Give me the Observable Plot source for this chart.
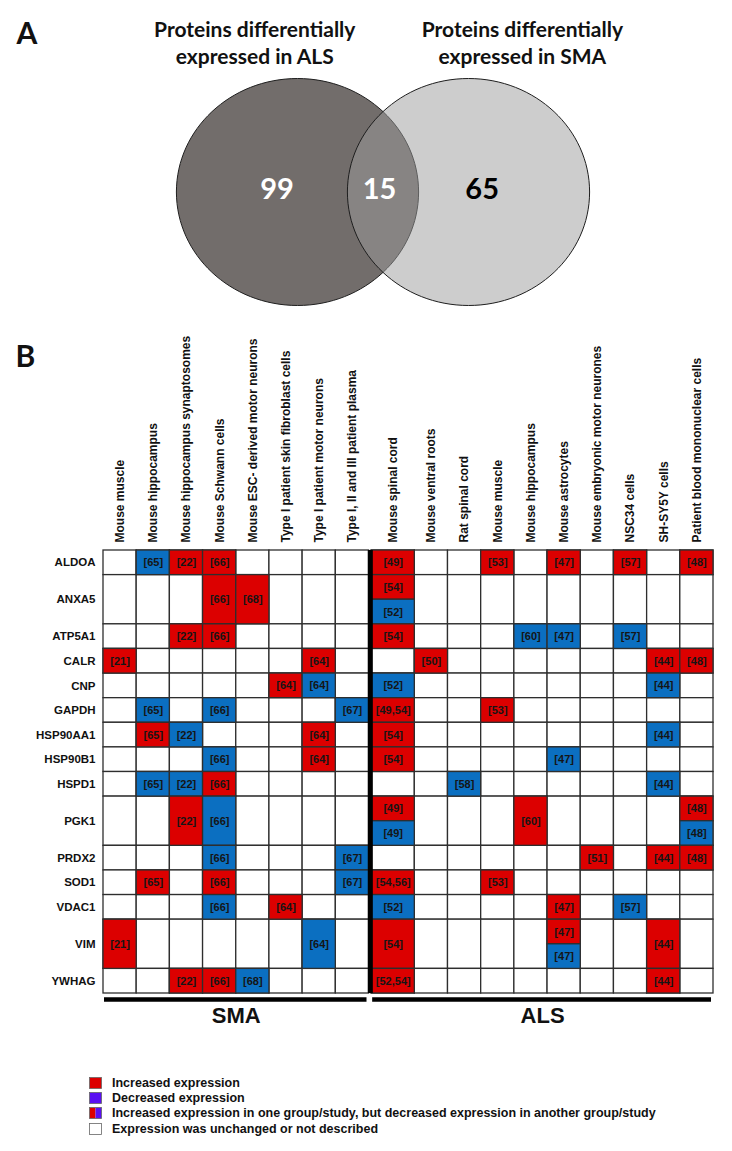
<!DOCTYPE html>
<html>
<head>
<meta charset="utf-8">
<script src="https://cdn.jsdelivr.net/npm/d3@7"></script>
<script src="https://cdn.jsdelivr.net/npm/@observablehq/plot@0.6"></script>
<style>
  body { margin: 0; background: #fff; }
  #wrap { position: relative; width: 732px; height: 1151px; overflow: hidden; background: #fff; }
  #venn { position: absolute; left: 0; top: 0; }
  #grid { position: absolute; left: 0; top: 330px; }
  #legend { position: absolute; left: 89px; top: 1075px; font-family: "Liberation Sans", Arial, sans-serif; font-weight: bold; font-size: 12.5px; color: #111; }
  #legend .item { display: flex; align-items: center; height: 15.3px; }
  #legend svg { margin-right: 10px; flex: none; }
</style>
</head>
<body>
<div id="wrap">
  <div id="venn"></div>
  <div id="grid"></div>
  <div id="legend"></div>
</div>
<script>
// ---------------- data ----------------
const vennSets = ["Proteins differentially\nexpressed in ALS", "Proteins differentially\nexpressed in SMA"];
const vennRegions = ["ALS only", "ALS and SMA", "SMA only"];
const vennCounts = [99, 15, 65];

const smaColumns = [
  "Mouse muscle", "Mouse hippocampus", "Mouse hippocampus synaptosomes", "Mouse Schwann cells",
  "Mouse ESC- derived motor neurons", "Type I patient skin fibroblast cells",
  "Type I patient motor neurons", "Type I, II and III patient plasma"
];
const alsColumns = [
  "Mouse spinal cord", "Mouse ventral roots", "Rat spinal cord", "Mouse muscle", "Mouse hippocampus",
  "Mouse astrocytes", "Mouse embryonic motor neurones", "NSC34 cells", "SH-SY5Y cells",
  "Patient blood mononuclear cells"
];
const proteins = ["ALDOA", "ANXA5", "ATP5A1", "CALR", "CNP", "GAPDH", "HSP90AA1", "HSP90B1", "HSPD1",
  "PGK1", "PRDX2", "SOD1", "VDAC1", "VIM", "YWHAG"];

// [protein, disease, column index, change, references, half: 0 whole cell, 1 upper, 2 lower]
const findings = [
  ["ALDOA", "SMA", 1, "down", "[65]", 0], ["ALDOA", "SMA", 2, "up", "[22]", 0], ["ALDOA", "SMA", 3, "up", "[66]", 0],
  ["ALDOA", "ALS", 0, "up", "[49]", 0], ["ALDOA", "ALS", 3, "up", "[53]", 0], ["ALDOA", "ALS", 5, "up", "[47]", 0],
  ["ALDOA", "ALS", 7, "up", "[57]", 0], ["ALDOA", "ALS", 9, "up", "[48]", 0],
  ["ANXA5", "SMA", 3, "up", "[66]", 0], ["ANXA5", "SMA", 4, "up", "[68]", 0],
  ["ANXA5", "ALS", 0, "up", "[54]", 1], ["ANXA5", "ALS", 0, "down", "[52]", 2],
  ["ATP5A1", "SMA", 2, "up", "[22]", 0], ["ATP5A1", "SMA", 3, "up", "[66]", 0],
  ["ATP5A1", "ALS", 0, "up", "[54]", 0], ["ATP5A1", "ALS", 4, "down", "[60]", 0],
  ["ATP5A1", "ALS", 5, "down", "[47]", 0], ["ATP5A1", "ALS", 7, "down", "[57]", 0],
  ["CALR", "SMA", 0, "up", "[21]", 0], ["CALR", "SMA", 6, "up", "[64]", 0],
  ["CALR", "ALS", 1, "up", "[50]", 0], ["CALR", "ALS", 8, "up", "[44]", 0], ["CALR", "ALS", 9, "up", "[48]", 0],
  ["CNP", "SMA", 5, "up", "[64]", 0], ["CNP", "SMA", 6, "down", "[64]", 0],
  ["CNP", "ALS", 0, "down", "[52]", 0], ["CNP", "ALS", 8, "down", "[44]", 0],
  ["GAPDH", "SMA", 1, "down", "[65]", 0], ["GAPDH", "SMA", 3, "down", "[66]", 0], ["GAPDH", "SMA", 7, "down", "[67]", 0],
  ["GAPDH", "ALS", 0, "up", "[49,54]", 0], ["GAPDH", "ALS", 3, "up", "[53]", 0],
  ["HSP90AA1", "SMA", 1, "up", "[65]", 0], ["HSP90AA1", "SMA", 2, "down", "[22]", 0], ["HSP90AA1", "SMA", 6, "up", "[64]", 0],
  ["HSP90AA1", "ALS", 0, "up", "[54]", 0], ["HSP90AA1", "ALS", 8, "down", "[44]", 0],
  ["HSP90B1", "SMA", 3, "down", "[66]", 0], ["HSP90B1", "SMA", 6, "up", "[64]", 0],
  ["HSP90B1", "ALS", 0, "up", "[54]", 0], ["HSP90B1", "ALS", 5, "down", "[47]", 0],
  ["HSPD1", "SMA", 1, "down", "[65]", 0], ["HSPD1", "SMA", 2, "down", "[22]", 0], ["HSPD1", "SMA", 3, "up", "[66]", 0],
  ["HSPD1", "ALS", 2, "down", "[58]", 0], ["HSPD1", "ALS", 8, "down", "[44]", 0],
  ["PGK1", "SMA", 2, "up", "[22]", 0], ["PGK1", "SMA", 3, "down", "[66]", 0],
  ["PGK1", "ALS", 0, "up", "[49]", 1], ["PGK1", "ALS", 0, "down", "[49]", 2], ["PGK1", "ALS", 4, "up", "[60]", 0],
  ["PGK1", "ALS", 9, "up", "[48]", 1], ["PGK1", "ALS", 9, "down", "[48]", 2],
  ["PRDX2", "SMA", 3, "down", "[66]", 0], ["PRDX2", "SMA", 7, "down", "[67]", 0],
  ["PRDX2", "ALS", 6, "up", "[51]", 0], ["PRDX2", "ALS", 8, "up", "[44]", 0], ["PRDX2", "ALS", 9, "up", "[48]", 0],
  ["SOD1", "SMA", 1, "up", "[65]", 0], ["SOD1", "SMA", 3, "up", "[66]", 0], ["SOD1", "SMA", 7, "down", "[67]", 0],
  ["SOD1", "ALS", 0, "up", "[54,56]", 0], ["SOD1", "ALS", 3, "up", "[53]", 0],
  ["VDAC1", "SMA", 3, "down", "[66]", 0], ["VDAC1", "SMA", 5, "up", "[64]", 0],
  ["VDAC1", "ALS", 0, "down", "[52]", 0], ["VDAC1", "ALS", 5, "up", "[47]", 0], ["VDAC1", "ALS", 7, "down", "[57]", 0],
  ["VIM", "SMA", 0, "up", "[21]", 0], ["VIM", "SMA", 6, "down", "[64]", 0],
  ["VIM", "ALS", 0, "up", "[54]", 0], ["VIM", "ALS", 5, "up", "[47]", 1], ["VIM", "ALS", 5, "down", "[47]", 2],
  ["VIM", "ALS", 8, "up", "[44]", 0],
  ["YWHAG", "SMA", 2, "up", "[22]", 0], ["YWHAG", "SMA", 3, "up", "[66]", 0], ["YWHAG", "SMA", 4, "down", "[68]", 0],
  ["YWHAG", "ALS", 0, "up", "[52,54]", 0], ["YWHAG", "ALS", 8, "up", "[44]", 0]
];

const legendLabels = [
  "Increased expression",
  "Decreased expression",
  "Increased expression in one group/study, but decreased expression in another group/study",
  "Expression was unchanged or not described"
];
const legendKinds = ["up", "down", "mixed", "none"];

// ---------------- styling / layout ----------------
const RED = "#dc0000", BLUE = "#0b6fc1";
const LEG_RED = "#dc0000", LEG_VIOLET = "#5a10f2";
const LINE = "#2e2e2e";
const GAP = 0.08, WIDE = 1.3;

// ---------------- Venn diagram (panel A) ----------------
const ellipse = {
  draw(ctx, size) {
    const r = Math.sqrt(size / Math.PI), rx = r * 1.035, ry = r * 0.97, k = 0.5523;
    ctx.moveTo(rx, 0);
    ctx.bezierCurveTo(rx, ry * k, rx * k, ry, 0, ry);
    ctx.bezierCurveTo(-rx * k, ry, -rx, ry * k, -rx, 0);
    ctx.bezierCurveTo(-rx, -ry * k, -rx * k, -ry, 0, -ry);
    ctx.bezierCurveTo(rx * k, -ry, rx, -ry * k, rx, 0);
    ctx.closePath();
  }
};
const sets = vennSets.map((label, i) => ({label, side: i === 0 ? -1 : 1}));
const regionX = [-0.62, -0.02, 0.58];
const regions = vennRegions.map((name, i) => ({name, count: vennCounts[i], x: regionX[i], dark: i < 2}));

const venn = Plot.plot({
  width: 732, height: 310,
  marginTop: 78, marginBottom: 5, marginLeft: 0, marginRight: 0,
  x: {domain: [-1, 1], range: [211.5, 553.5], axis: null},
  y: {domain: [-1, 1], axis: null},
  style: {fontFamily: "Lato, 'Open Sans', sans-serif", background: "white", overflow: "visible"},
  marks: [
    Plot.dot(sets.slice(0, 1), {x: d => d.side * 0.5, y: 0, r: 117, symbol: ellipse, fill: "#726d6b", stroke: "#1e1e1e", strokeWidth: 1}),
    Plot.dot(sets.slice(1), {x: d => d.side * 0.5, y: 0, r: 117, symbol: ellipse, fill: "#9b9b9b", fillOpacity: 0.5, stroke: "#1e1e1e", strokeWidth: 1}),
    Plot.text(regions, {x: "x", y: 0, text: d => String(d.count), dy: -2, fontSize: 29, fontWeight: "bold", fill: d => d.dark ? "white" : "black"}),
    Plot.text(sets, {x: d => d.side < 0 ? -0.75 : 0.815, y: 1, text: "label", lineAnchor: "top", dy: -61, fontSize: 21, fontWeight: "bold", lineHeight: 1.3, fill: "#111"}),
    Plot.text(["A"], {frameAnchor: "top-left", text: d => d, textAnchor: "start", lineAnchor: "top", dx: 16, dy: -56, fontSize: 30, fontWeight: "bold", fill: "#111"})
  ]
});
document.getElementById("venn").append(venn);

// ---------------- Grid (panel B) ----------------
const columns = [
  ...smaColumns.map((name, i) => ({disease: "SMA", i, name, x1: i, x2: i + 1})),
  ...alsColumns.map((name, i) => {
    const x1 = smaColumns.length + GAP + (i === 0 ? 0 : WIDE + i - 1);
    return {disease: "ALS", i, name, x1, x2: x1 + (i === 0 ? WIDE : 1)};
  })
];
const colOf = (d, i) => columns.find(c => c.disease === d && c.i === i);
let acc = 0;
const rows = proteins.map(p => {
  const span = findings.some(f => f[0] === p && f[5] > 0) ? 2 : 1;
  const r = {name: p, y1: acc, y2: acc + span};
  acc += span;
  return r;
});
const totalY = acc;
const cells = findings.map(([p, d, i, change, refs, half]) => {
  const c = colOf(d, i), r = rows.find(r => r.name === p);
  const y1 = half === 2 ? r.y1 + 1 : r.y1;
  const y2 = half === 1 ? r.y1 + 1 : r.y2;
  return {x1: c.x1, x2: c.x2, y1, y2, change, refs};
});
const gridCells = rows.flatMap(r => columns.map(c => ({x1: c.x1, x2: c.x2, y1: r.y1, y2: r.y2})));
const groups = ["SMA", "ALS"].map(d => {
  const cs = columns.filter(c => c.disease === d);
  return {name: d, x1: cs[0].x1, x2: cs[cs.length - 1].x2};
});
const totalX = columns[columns.length - 1].x2;

const grid = Plot.plot({
  width: 732, height: 703,
  marginTop: 220, marginBottom: 40, marginLeft: 103, marginRight: 19,
  x: {domain: [0, totalX], axis: null},
  y: {domain: [0, totalY], reverse: true, axis: null},
  style: {fontFamily: "'Liberation Sans', Arial, sans-serif", background: "white", overflow: "visible"},
  marks: [
    Plot.rect(gridCells, {x1: "x1", x2: "x2", y1: "y1", y2: "y2", fill: "white", stroke: LINE, strokeWidth: 1.3}),
    Plot.rect(cells, {x1: "x1", x2: "x2", y1: "y1", y2: "y2", fill: d => d.change === "up" ? RED : BLUE, stroke: LINE, strokeWidth: 1.3}),
    Plot.text(cells, {x: d => (d.x1 + d.x2) / 2, y: d => (d.y1 + d.y2) / 2, text: "refs", fontSize: 11, fontWeight: "bold", fill: "#151515"}),
    Plot.ruleX([smaColumns.length + GAP / 2], {y1: 0, y2: totalY, stroke: "black", strokeWidth: 5}),
    Plot.text(rows, {x: 0, y: d => (d.y1 + d.y2) / 2, text: "name", textAnchor: "end", dx: -8, fontSize: 11.5, fontWeight: "bold", fill: "#111"}),
    Plot.text(columns, {x: d => (d.x1 + d.x2) / 2, y: 0, text: "name", rotate: -90, textAnchor: "start", dy: -8, fontSize: 12, fontWeight: "bold", fill: "#111"}),
    Plot.ruleY(groups, {y: totalY, x1: "x1", x2: "x2", dy: 6, insetLeft: 1, insetRight: 2, stroke: "black", strokeWidth: 4.5}),
    Plot.text(groups, {x: d => (d.x1 + d.x2) / 2, y: totalY, text: "name", dy: 22, fontSize: 22, fontWeight: "bold", fill: "#111"}),
    Plot.text(["B"], {frameAnchor: "top-left", text: d => d, textAnchor: "start", lineAnchor: "top", dx: -88, dy: -205, fontSize: 30, fontWeight: "bold", fill: "#111", fontFamily: "Lato, sans-serif"})
  ]
});
document.getElementById("grid").append(grid);

// ---------------- Legend ----------------
const legend = d3.select("#legend");
legendLabels.forEach((label, i) => {
  const item = legend.append("div").attr("class", "item");
  const svg = item.append("svg").attr("width", 13).attr("height", 12);
  const kind = legendKinds[i];
  if (kind === "mixed") {
    svg.append("rect").attr("x", 0.5).attr("y", 0.5).attr("width", 6).attr("height", 11).attr("fill", LEG_RED);
    svg.append("rect").attr("x", 6.5).attr("y", 0.5).attr("width", 6).attr("height", 11).attr("fill", LEG_VIOLET);
    svg.append("rect").attr("x", 0.5).attr("y", 0.5).attr("width", 12).attr("height", 11).attr("fill", "none").attr("stroke", "#666").attr("stroke-width", 0.8);
  } else {
    svg.append("rect").attr("x", 0.5).attr("y", 0.5).attr("width", 12).attr("height", 11)
      .attr("fill", kind === "up" ? LEG_RED : kind === "down" ? LEG_VIOLET : "white")
      .attr("stroke", "#666").attr("stroke-width", 0.8);
  }
  item.append("span").text(label);
});
</script>
</body>
</html>
